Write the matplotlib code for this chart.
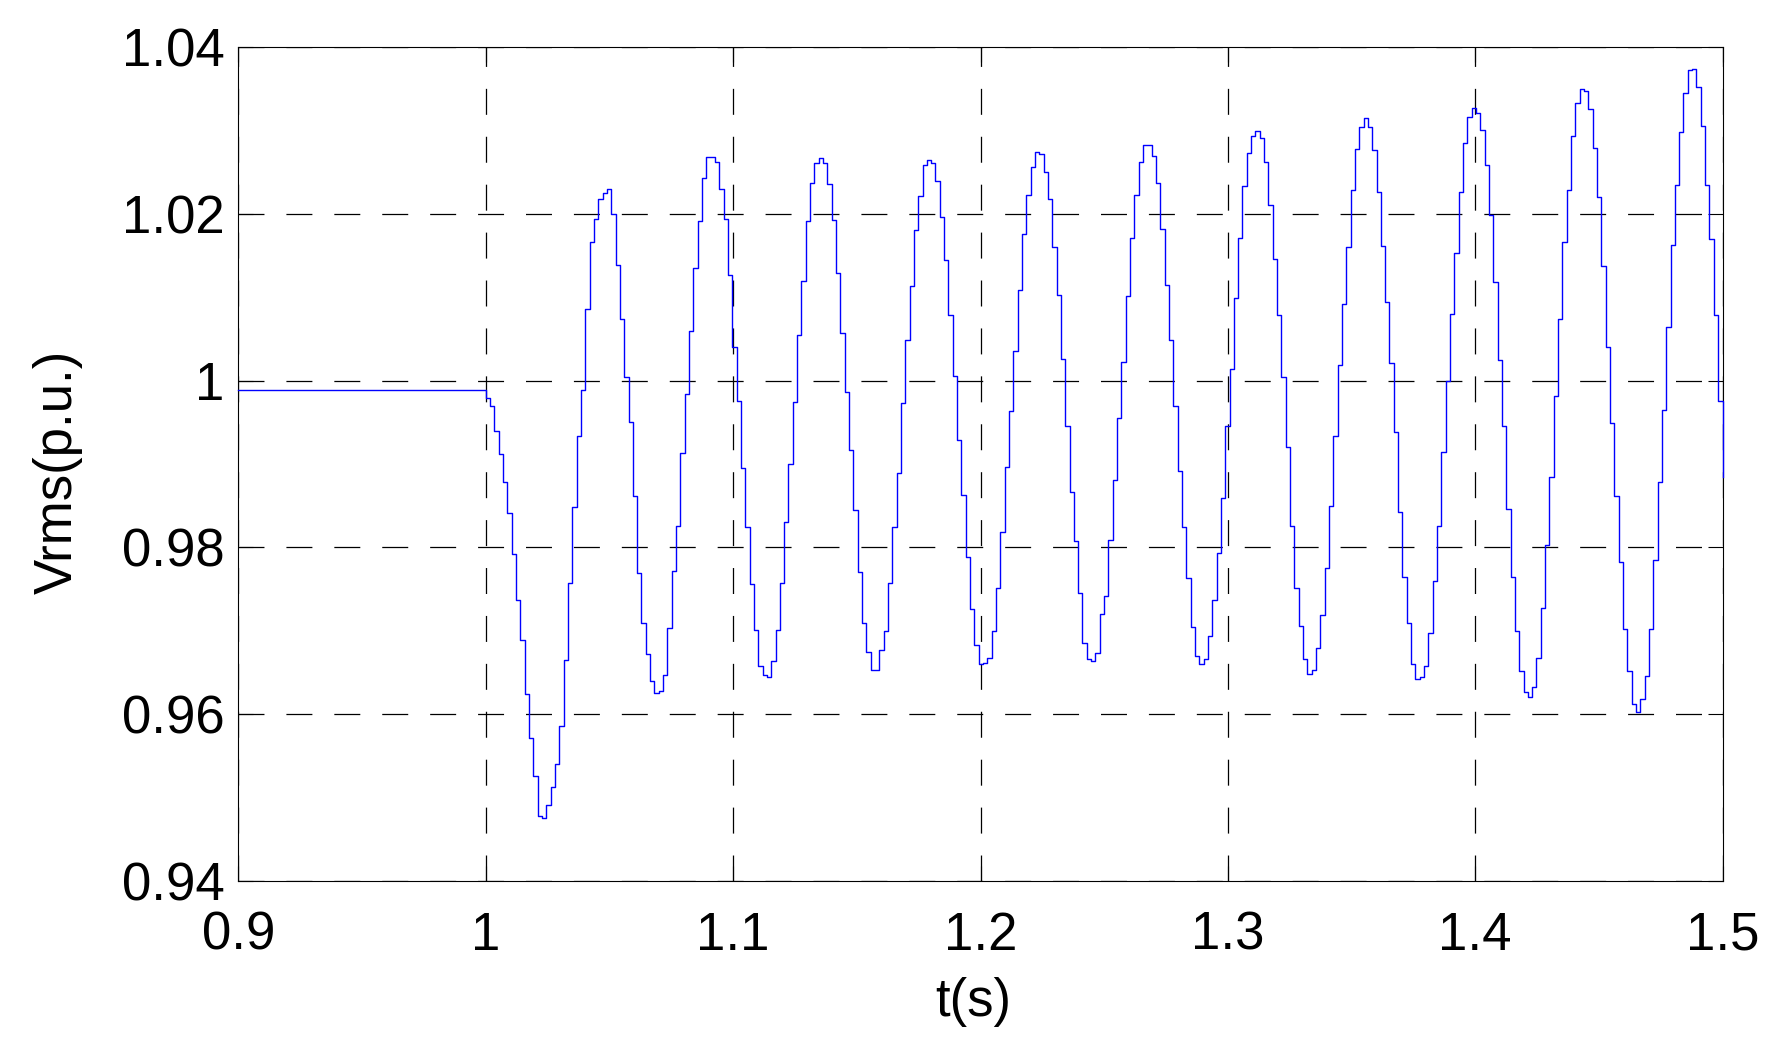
import numpy as np
import matplotlib
matplotlib.use('Agg')
import matplotlib.pyplot as plt

# Vrms (p.u.) held constant before the fault, then one value per sample step after t = 1 s
t_fault = 1.0
dt = 0.001748
v_prefault = 0.9989
v_end = 0.9885

vrms_after = [
    0.9979, 0.9970, 0.9940, 0.9912, 0.9878, 0.9841, 0.9792, 0.9737, 0.9689, 0.9624,
    0.9572, 0.9526, 0.9478, 0.9476, 0.9491, 0.9513, 0.9541, 0.9586, 0.9665, 0.9758,
    0.9848, 0.9933, 0.9989, 1.0086, 1.0166, 1.0194, 1.0217, 1.0225, 1.0229, 1.0200,
    1.0138, 1.0074, 1.0004, 0.9950, 0.9862, 0.9770, 0.9710, 0.9672, 0.9640, 0.9626,
    0.9628, 0.9647, 0.9704, 0.9772, 0.9826, 0.9913, 0.9984, 1.0059, 1.0135, 1.0191,
    1.0243, 1.0268, 1.0268, 1.0262, 1.0229, 1.0193, 1.0126, 1.0040, 0.9975, 0.9895,
    0.9824, 0.9756, 0.9701, 0.9658, 0.9647, 0.9645, 0.9664, 0.9701, 0.9757, 0.9830,
    0.9900, 0.9974, 1.0055, 1.0119, 1.0191, 1.0237, 1.0260, 1.0267, 1.0260, 1.0236,
    1.0192, 1.0129, 1.0057, 0.9986, 0.9917, 0.9845, 0.9771, 0.9710, 0.9675, 0.9653,
    0.9653, 0.9677, 0.9700, 0.9758, 0.9824, 0.9889, 0.9973, 1.0049, 1.0113, 1.0180,
    1.0221, 1.0258, 1.0264, 1.0261, 1.0239, 1.0196, 1.0144, 1.0078, 1.0005, 0.9929,
    0.9863, 0.9788, 0.9726, 0.9683, 0.9661, 0.9662, 0.9668, 0.9700, 0.9752, 0.9819,
    0.9896, 0.9963, 1.0035, 1.0108, 1.0175, 1.0222, 1.0256, 1.0274, 1.0271, 1.0250,
    1.0217, 1.0160, 1.0102, 1.0026, 0.9946, 0.9866, 0.9808, 0.9746, 0.9686, 0.9666,
    0.9664, 0.9674, 0.9720, 0.9742, 0.9809, 0.9881, 0.9955, 1.0022, 1.0101, 1.0171,
    1.0222, 1.0262, 1.0282, 1.0282, 1.0269, 1.0237, 1.0181, 1.0114, 1.0048, 0.9969,
    0.9892, 0.9824, 0.9763, 0.9705, 0.9670, 0.9661, 0.9666, 0.9694, 0.9737, 0.9793,
    0.9859, 0.9946, 1.0014, 1.0099, 1.0171, 1.0233, 1.0272, 1.0293, 1.0299, 1.0290,
    1.0262, 1.0210, 1.0146, 1.0078, 1.0004, 0.9920, 0.9826, 0.9752, 0.9706, 0.9667,
    0.9648, 0.9653, 0.9680, 0.9719, 0.9775, 0.9850, 0.9933, 1.0019, 1.0092, 1.0160,
    1.0228, 1.0277, 1.0304, 1.0314, 1.0304, 1.0276, 1.0226, 1.0161, 1.0094, 1.0021,
    0.9938, 0.9843, 0.9765, 0.9709, 0.9660, 0.9643, 0.9645, 0.9658, 0.9697, 0.9760,
    0.9826, 0.9914, 0.9999, 1.0080, 1.0153, 1.0226, 1.0284, 1.0316, 1.0326, 1.0321,
    1.0300, 1.0258, 1.0198, 1.0118, 1.0025, 0.9945, 0.9846, 0.9765, 0.9700, 0.9652,
    0.9627, 0.9621, 0.9633, 0.9668, 0.9728, 0.9803, 0.9884, 0.9981, 1.0074, 1.0166,
    1.0228, 1.0293, 1.0332, 1.0349, 1.0347, 1.0325, 1.0278, 1.0220, 1.0137, 1.0040,
    0.9949, 0.9862, 0.9783, 0.9702, 0.9652, 0.9613, 0.9603, 0.9619, 0.9646, 0.9702,
    0.9785, 0.9878, 0.9965, 1.0064, 1.0162, 1.0234, 1.0298, 1.0344, 1.0372, 1.0373,
    1.0352, 1.0305, 1.0234, 1.0170, 1.0079, 0.9975,
]

xticks = [0.9, 1.0, 1.1, 1.2, 1.3, 1.4, 1.5]
xticklabels = ['0.9', '1', '1.1', '1.2', '1.3', '1.4', '1.5']
yticks = [0.94, 0.96, 0.98, 1.0, 1.02, 1.04]
yticklabels = ['0.94', '0.96', '0.98', '1', '1.02', '1.04']

plt.rcParams['font.family'] = ['Liberation Sans', 'DejaVu Sans']
plt.rcParams['lines.scale_dashes'] = False

t = np.concatenate([[0.9], t_fault + dt * np.arange(len(vrms_after)), [1.5]])
v = np.array([v_prefault] + vrms_after + [v_end])

fig = plt.figure(figsize=(17.81, 10.59), dpi=100)
ax = fig.add_axes([0.1339, 0.1677, 0.8333, 0.7883])

# last drop sits on the right spine, so do not clip it away
ax.plot(t, v, drawstyle='steps-post', color='#0000ff', linewidth=1.0,
        clip_on=False, zorder=3)

ax.set_xlim(0.9, 1.5)
ax.set_ylim(0.94, 1.04)
ax.set_xticks(xticks)
ax.set_xticklabels(xticklabels)
ax.set_yticks(yticks)
ax.set_yticklabels(yticklabels)

# matlab style: inward ticks on every side, dashed black grid
ax.tick_params(axis='both', direction='in', length=11, width=0.8,
               top=True, right=True, labelsize=38, colors='k')
ax.tick_params(axis='x', pad=21)
ax.tick_params(axis='y', pad=10)
ax.grid(True, color='k', linewidth=0.9, linestyle=(0, (18.7, 15.8)))
for s in ax.spines.values():
    s.set_linewidth(0.8)
    s.set_color('k')

ax.set_xlabel('t(s)', fontsize=38)
ax.set_ylabel('Vrms(p.u.)', fontsize=38)
ax.xaxis.set_label_coords(0.495, -0.115)
ax.yaxis.set_label_coords(-0.105, 0.49)

fig.savefig('out.png', dpi=100, facecolor='white')
